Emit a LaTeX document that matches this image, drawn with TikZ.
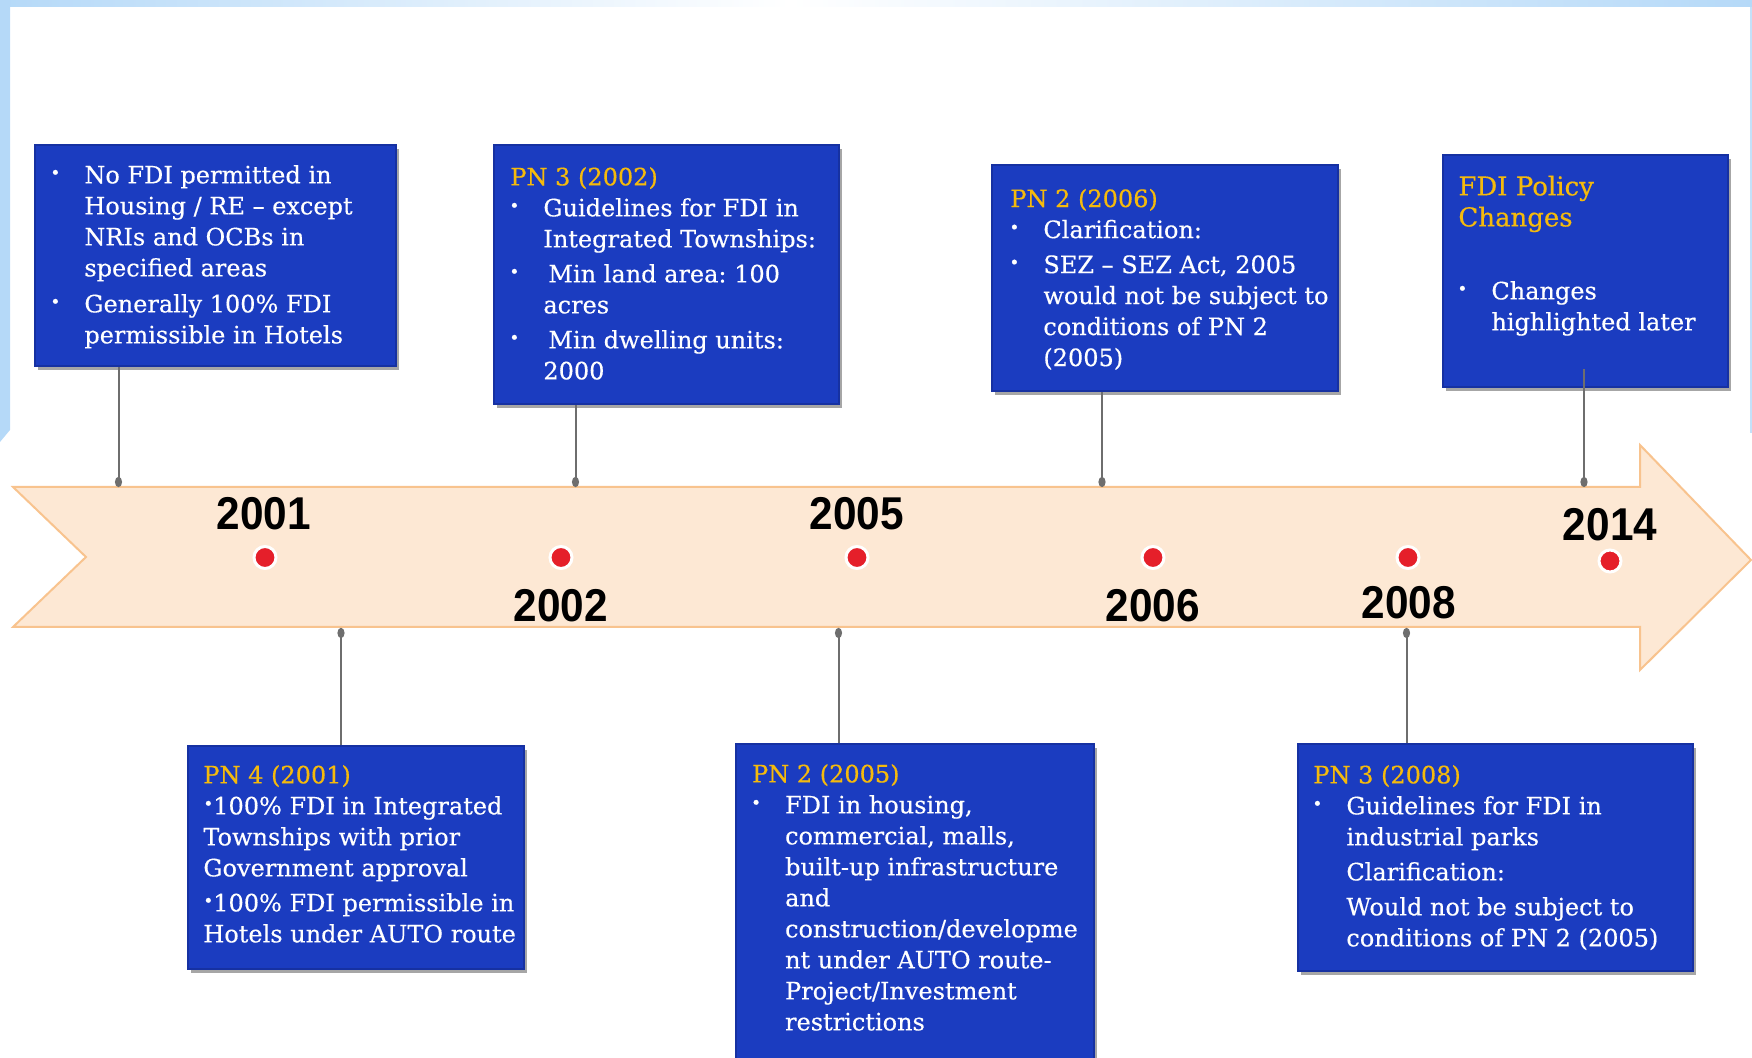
\documentclass[tikz,border=0pt]{standalone}
\usepackage{fontspec}
\usepackage{graphicx}
\usetikzlibrary{shadows,calc}
\newfontfamily\bxfam[FakeBold=0.4]{DejaVu Serif}
\newfontfamily\yrfam{Liberation Sans}
\definecolor{boxblue}{HTML}{1B3CC0}
\definecolor{boxedge}{HTML}{1631A2}
\definecolor{gold}{HTML}{F5BA0C}
\definecolor{peach}{HTML}{FDE8D4}
\definecolor{peachedge}{HTML}{F8C38E}
\definecolor{dotred}{HTML}{E51F2A}
\definecolor{conngray}{HTML}{6E6E6E}
\definecolor{frameblue}{HTML}{B5D9F8}
\frenchspacing
\newcommand\bxfont{\bxfam\fontsize{12pt}{15.5pt}\selectfont\lineskiplimit=-100pt }
\newcommand\hdfont{\fontsize{13pt}{15.5pt}\selectfont}
\newcommand\yrfont{\yrfam\bfseries\fontsize{23pt}{23pt}\selectfont}
\newcommand\sdot{\raisebox{.2em}{\scalebox{.7}{\textbullet}}}
\newcommand\bu{\hspace*{2pt}\makebox[0pt][c]{\sdot}\hspace*{14.5pt}}
\newcommand\co{\hspace*{16.5pt}}
\newcommand\st{\rule{0pt}{10pt}}
\newcommand\gd[1]{\textcolor{gold}{#1}}
\tikzset{
  bluebox/.style={draw=boxedge, line width=1pt, fill=boxblue, inner sep=0pt, anchor=north west,
    drop shadow={shadow xshift=1.5pt, shadow yshift=-2pt, fill=black, opacity=0.35}},
  btext/.style={anchor=north west, inner sep=0pt, align=left, text=white, font=\bxfont},
  year/.style={font=\yrfont, text=black, inner sep=0pt},
  conn/.style={draw=conngray, line width=1pt},
  reddot/.style={circle, fill=dotred, draw=white, line width=1.5pt, minimum size=11pt, inner sep=0pt}
}
\begin{document}
\begin{tikzpicture}[x=0.5pt,y=-0.5pt]
\useasboundingbox (0,0) rectangle (1752,1058);
\clip (0,0) rectangle (1752,1058);
% frame
\shade[left color=frameblue, right color=white] (0,0) rectangle (790,7);
\shade[left color=white, right color=frameblue] (790,0) rectangle (1752,7);
\fill[frameblue] (0,0) -- (10,0) -- (10,430) -- (0,442) -- cycle;
\draw[frameblue!80, line width=1pt] (1751,7) -- (1751,433);
% arrow
\draw[fill=peach, draw=peachedge, line width=1pt] (13,487) -- (1640,487) -- (1640,445) -- (1751,560) -- (1640,670) -- (1640,627) -- (13,627) -- (86,557) -- cycle;
% red dots
\node[reddot] (d1) at (265,557.5) {};
\node[reddot] (d2) at (561,557.5) {};
\node[reddot] (d3) at (857,557.5) {};
\node[reddot] (d4) at (1153,557.5) {};
\node[reddot] (d5) at (1408,557.5) {};
\node[reddot] (d6) at (1610,561) {};
% years
\node[year] (y1) at (264,514) {\scalebox{0.92}[1]{2001}};
\node[year] (y2) at (561,606) {\scalebox{0.92}[1]{2002}};
\node[year] (y3) at (857,514) {\scalebox{0.92}[1]{2005}};
\node[year] (y4) at (1153,606) {\scalebox{0.92}[1]{2006}};
\node[year] (y5) at (1409,603) {\scalebox{0.92}[1]{2008}};
\node[year] (y6) at (1610,525) {\scalebox{0.92}[1]{2014}};
% boxes
\node[bluebox, minimum width=180.5pt, minimum height=110.5pt] (b1) at (33.5,144) {};
\node[bluebox, minimum width=172.5pt, minimum height=129.3pt] (b2) at (492.7,144) {};
\node[bluebox, minimum width=173pt, minimum height=112.8pt] (b3) at (990.7,164.3) {};
\node[bluebox, minimum width=142.5pt, minimum height=115.8pt] (b4) at (1441.7,154.3) {};
\node[bluebox, minimum width=168.3pt, minimum height=111.6pt] (b5) at (186.7,745) {};
\node[bluebox, minimum width=179.2pt, minimum height=175pt] (b6) at (735,742.7) {};
\node[bluebox, minimum width=197.5pt, minimum height=113.6pt] (b7) at (1297.3,742.7) {};
% texts
\node[btext] (t1) at (51,163) {\st\bu No FDI permitted in\\
\co Housing / RE \textendash{} except\\
\co NRIs and OCBs in\\
\co specified areas\\[2.5pt]
\bu Generally 100\% FDI\\
\co permissible in Hotels};
\node[btext] (t2) at (510,165) {\st\gd{PN 3 (2002)}\\
\bu Guidelines for FDI in\\
\co Integrated Townships:\\[2pt]
\bu\hspace*{2.5pt}Min land area: 100\\
\co acres\\[2pt]
\bu\hspace*{2.5pt}Min dwelling units:\\
\co 2000};
\node[btext] (t3) at (1010,186.7) {\st\gd{PN 2 (2006)}\\
\bu Clarification:\\[2pt]
\bu SEZ \textendash{} SEZ Act, 2005\\
\co would not be subject to\\
\co conditions of PN 2\\
\co (2005)};
\node[btext] (t4) at (1458,175) {\st\gd{\hdfont FDI Policy}\\
\gd{\hdfont Changes}\\
\mbox{}\\[5.5pt]
\bu Changes\\
\co highlighted later};
\node[btext] (t5) at (203,763) {\st\gd{PN 4 (2001)}\\
\sdot100\% FDI in Integrated\\
Townships with prior\\
Government approval\\[2pt]
\sdot100\% FDI permissible in\\
Hotels under AUTO route};
\node[btext] (t6) at (751.7,762) {\st\gd{PN 2 (2005)}\\
\bu FDI in housing,\\
\co commercial, malls,\\
\co built-up infrastructure\\
\co and\\
\co construction/developme\\
\co nt under AUTO route-\\
\co Project/Investment\\
\co restrictions};
\node[btext] (t7) at (1313,763) {\st\gd{PN 3 (2008)}\\
\bu Guidelines for FDI in\\
\co industrial parks\\[2pt]
\co Clarification:\\[2pt]
\co Would not be subject to\\
\co conditions of PN 2 (2005)};
% connectors
\coordinate (c1) at (118.5,482);
\coordinate (c2) at (575.5,482);
\coordinate (c3) at (1102,482);
\coordinate (c4) at (1584,482);
\coordinate (c5) at (341,633);
\coordinate (c6) at (838.5,633);
\coordinate (c7) at (1406.5,633);
\draw[conn] (c1) -- (c1 |- b1.south);
\draw[conn] (c2) -- (c2 |- b2.south);
\draw[conn] (c3) -- (c3 |- b3.south);
\draw[conn] (c4) -- ($(c4 |- b4.south)+(0,-19)$);
\draw[conn] (c5) -- (c5 |- b5.north);
\draw[conn] (c6) -- (c6 |- b6.north);
\draw[conn] (c7) -- (c7 |- b7.north);
\foreach \c in {c1,c2,c3,c4,c5,c6,c7}
  \fill[conngray] (\c) ellipse [x radius=1.8pt, y radius=2.6pt];
\end{tikzpicture}
\end{document}
